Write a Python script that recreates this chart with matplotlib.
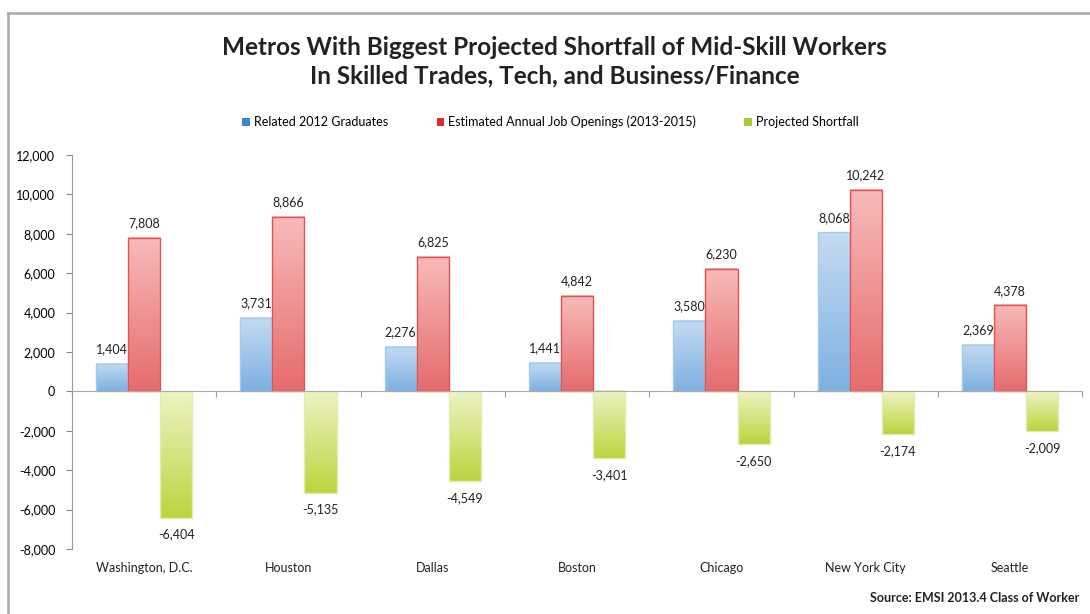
import numpy as np
import matplotlib.pyplot as plt
from matplotlib.patches import Patch
from matplotlib.lines import Line2D
from matplotlib.colors import LinearSegmentedColormap
import matplotlib.transforms as mtransforms

plt.rcParams['font.family'] = ['Lato', 'DejaVu Sans']

metros = ['Washington, D.C.', 'Houston', 'Dallas', 'Boston', 'Chicago', 'New York City', 'Seattle']
graduates = [1404, 3731, 2276, 1441, 3580, 8068, 2369]
openings = [7808, 8866, 6825, 4842, 6230, 10242, 4378]
shortfall = [-6404, -5135, -4549, -3401, -2650, -2174, -2009]
series_names = ['Related 2012 Graduates', 'Estimated Annual Job Openings (2013-2015)', 'Projected Shortfall']

# (top colour, bottom colour, edge colour, legend colour)
styles = [
    ('#c4dbf2', '#7db0e2', '#a9c9ec', '#3d85d4'),
    ('#f8baba', '#e66c6c', '#e65050', '#e02a2a'),
    ('#eef3c4', '#bdd43e', '#e3ecb0', '#a8cc32'),
]

fig = plt.figure(figsize=(10.9, 6.14), dpi=100)
ax = fig.add_axes([0.066, 0.1059, 0.927, 0.6417])

x = np.arange(len(metros))
w = 0.222
offsets = [-w, 0, w]
all_series = [graduates, openings, shortfall]

for vals, off, st in zip(all_series, offsets, styles):
    cmap = LinearSegmentedColormap.from_list('g', [st[0], st[1]])
    bars = ax.bar(x + off, vals, w, facecolor='none', edgecolor=st[2], linewidth=1.0, zorder=3)
    for b in bars:
        bx, by = b.get_x(), b.get_y()
        bw, bh = b.get_width(), b.get_height()
        y0, y1 = min(by, by + bh), max(by, by + bh)
        grad = np.linspace(0, 1, 100).reshape(-1, 1)
        ax.imshow(grad, extent=(bx, bx + bw, y0, y1), cmap=cmap, aspect='auto',
                  origin='upper', zorder=2)
    for xi, v in zip(x + off, vals):
        if v >= 0:
            ax.annotate(f'{v:,}', (xi, v), xytext=(0, 6), textcoords='offset points',
                        ha='center', va='bottom', fontsize=9, color='#222222', zorder=5)
        else:
            ax.annotate(f'{v:,}', (xi, v), xytext=(0, -8), textcoords='offset points',
                        ha='center', va='top', fontsize=9, color='#222222', zorder=5)

ax.set_xlim(-0.5, len(metros) - 0.5)
ax.set_ylim(-8000, 12000)
ax.set_yticks(np.arange(-8000, 12001, 2000))
ax.set_yticklabels([f'{v:,}' for v in range(-8000, 12001, 2000)], fontsize=9)
ax.tick_params(axis='y', length=4, color='#888888', pad=8)

ax.spines['top'].set_visible(False)
ax.spines['right'].set_visible(False)
ax.spines['left'].set_color('#999999')
ax.spines['bottom'].set_position(('data', 0))
ax.spines['bottom'].set_color('#aaaaaa')
ax.spines['bottom'].set_zorder(4)
ax.set_xticks(np.arange(-0.5, len(metros), 1))
ax.set_xticklabels([])
ax.tick_params(axis='x', length=4, color='#999999')

trans = mtransforms.blended_transform_factory(ax.transData, ax.transAxes)
for xi, name in zip(x, metros):
    ax.text(xi, -0.048, name, transform=trans, ha='center', va='center', fontsize=9, color='#222222')

fig.text(0.509, 0.9, 'Metros With Biggest Projected Shortfall of Mid-Skill Workers\nIn Skilled Trades, Tech, and Business/Finance',
         ha='center', va='center', fontsize=17.5, fontweight='bold', color='#222222', linespacing=1.3)

handles = [Patch(facecolor=st[3], edgecolor='none') for st in styles]
fig.legend(handles, series_names, loc='center', bbox_to_anchor=(0.505, 0.801), ncol=3, frameon=False,
           fontsize=9, handlelength=0.6, handleheight=0.6, handletextpad=0.3, columnspacing=3.9)

fig.text(0.99, 0.016, 'Source: EMSI 2013.4 Class of Worker', ha='right', va='bottom',
         fontsize=9, fontweight='bold', color='#222222')

# outer frame
fig.add_artist(Line2D([8 / 1090, 1.0], [1 - 13 / 614, 1 - 13 / 614], transform=fig.transFigure,
                      color='#a8a8a8', linewidth=1.8))
fig.add_artist(Line2D([8 / 1090, 8 / 1090], [0.0, 1 - 13 / 614], transform=fig.transFigure,
                      color='#a8a8a8', linewidth=1.8))

fig.savefig('out.png', dpi=100)
